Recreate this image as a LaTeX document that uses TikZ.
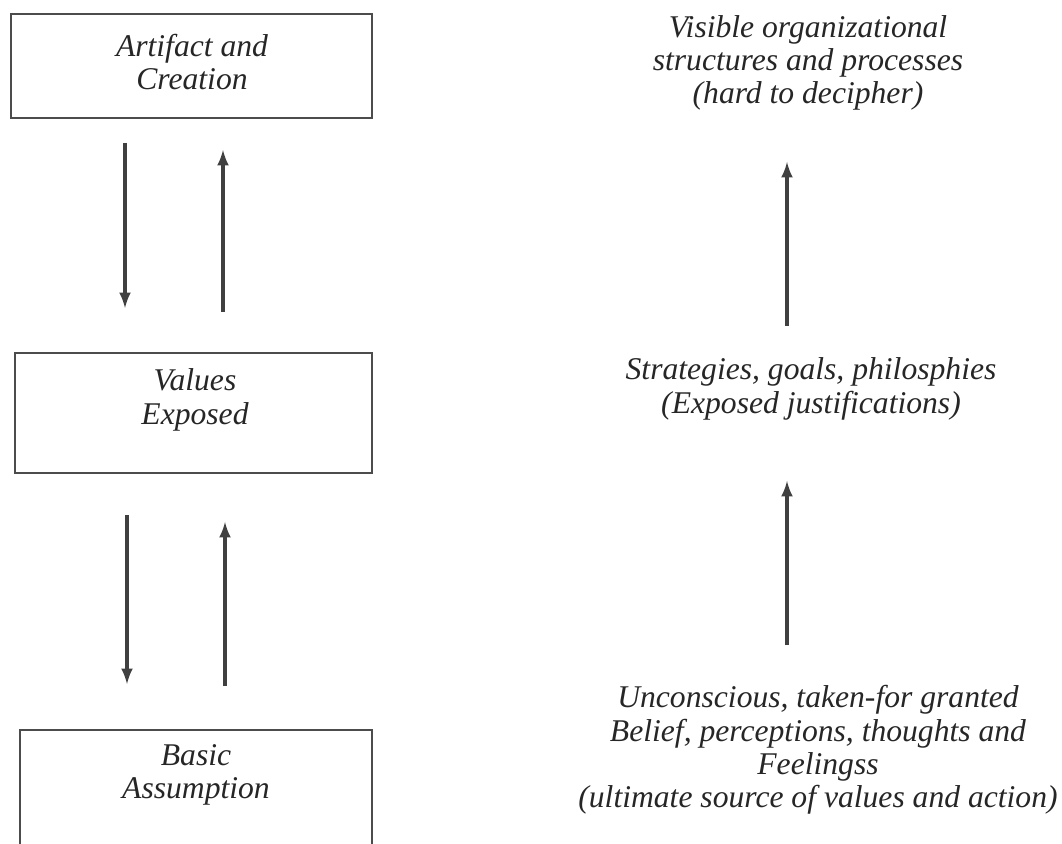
\documentclass[tikz,border=0pt]{standalone}
\usepackage{fontspec}
\setmainfont{Liberation Serif}
\usetikzlibrary{arrows, positioning}

\begin{document}
\begin{tikzpicture}[x=0.02cm, y=-0.02cm,
    frame/.style={draw=black!70, line width=1.3pt},
    lbl/.style={font=\fontsize{18}{19}\selectfont\itshape, text=black!85, align=center},
    flow/.style={-latex, line width=2pt, draw=black!75}]
  \useasboundingbox (0,0) rectangle (1062,844);

  % left column: the three levels
  \draw[frame] (11,14) rectangle (372,118);
  \node[lbl] (artifact) at (192,62) {Artifact and\\Creation};

  \draw[frame] (15,353) rectangle (372,473);
  \node[lbl] (values) at (195,400) {Values\\Exposed};

  \draw[frame] (20,730) rectangle (372,860);
  \node[lbl] (basic) at (196,775) {Basic\\Assumption};

  \coordinate (d1a) at (125,143);  \coordinate (d1b) at (125,308);
  \coordinate (u1a) at (223,312);  \coordinate (u1b) at (223,150);
  \coordinate (d2a) at (127,515);  \coordinate (d2b) at (127,684);
  \coordinate (u2a) at (225,686);  \coordinate (u2b) at (225,522);

  \draw[flow] (d1a) -- (d1b);
  \draw[flow] (u1a) -- (u1b);
  \draw[flow] (d2a) -- (d2b);
  \draw[flow] (u2a) -- (u2b);

  % right column: descriptions
  \node[lbl] (visible) at (808,63) {Visible organizational\\structures and processes\\(hard to decipher)};
  \node[lbl] (strategies) at (811,389) {Strategies, goals, philosphies\\(Exposed justifications)};
  \node[lbl] (beliefs) at (818,750) {Unconscious, taken-for granted\\Belief, perceptions, thoughts and\\Feelingss\\(ultimate source of values and action)};

  \coordinate (r1a) at (787,326);  \coordinate (r1b) at (787,162);
  \coordinate (r2a) at (787,645);  \coordinate (r2b) at (787,481);

  \draw[flow] (r1a) -- (r1b);
  \draw[flow] (r2a) -- (r2b);
\end{tikzpicture}
\end{document}
